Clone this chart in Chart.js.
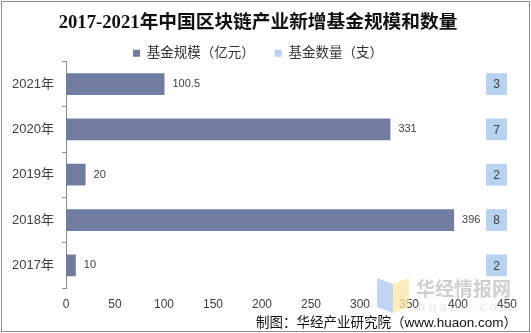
<!DOCTYPE html>
<html>
<head>
<meta charset="utf-8">
<script src="https://cdn.jsdelivr.net/npm/chart.js@4/dist/chart.umd.min.js"></script>
<style>
  html, body { margin: 0; padding: 0; background: #fff; }
  #wrap { width: 531px; height: 333px; }
</style>
</head>
<body>
<div id="wrap"><canvas id="bar"></canvas></div>
<script>
const years = ["2021年", "2020年", "2019年", "2018年", "2017年"];
const fundScale = [100.5, 331, 20, 396, 10];
const fundCount = [3, 7, 2, 8, 2];
const seriesNames = ["基金规模（亿元）", "基金数量（支）"];

const sansFont = '"Liberation Sans", "Noto Sans CJK SC", sans-serif';
const textColor = "#404040";

// white background, outer frame, hide the count bars (drawn as label boxes instead)
const framePlugin = {
  id: "frame",
  beforeDraw(chart) {
    const ctx = chart.ctx;
    ctx.save();
    ctx.fillStyle = "#fff";
    ctx.fillRect(0, 0, chart.width, chart.height);
    ctx.strokeStyle = "#8c8c8c";
    ctx.lineWidth = 1;
    ctx.strokeRect(1.5, 1.5, chart.width - 3, chart.height - 3);
    ctx.restore();
  },
  beforeDatasetDraw(chart, args) {
    if (args.index === 1) return false;
  },
};

const labelPlugin = {
  id: "labels",
  afterDatasetsDraw(chart) {
    const ctx = chart.ctx;
    const area = chart.chartArea;
    ctx.save();
    ctx.textBaseline = "middle";

    // value labels after the scale bars
    ctx.font = "11px " + sansFont;
    ctx.fillStyle = textColor;
    ctx.textAlign = "left";
    chart.getDatasetMeta(0).data.forEach((bar, i) => {
      ctx.fillText(String(fundScale[i]), bar.x + 8, bar.y);
    });

    // count series: filled label boxes at the right edge of the plot
    const boxW = 21;
    chart.getDatasetMeta(1).data.forEach((bar, i) => {
      const h = bar.height;
      ctx.fillStyle = "#b7d3f0";
      ctx.fillRect(area.right - boxW, bar.y - h / 2, boxW, h);
      ctx.fillStyle = textColor;
      ctx.font = "12px " + sansFont;
      ctx.textAlign = "center";
      ctx.fillText(String(fundCount[i]), area.right - boxW / 2, bar.y + 1);
    });
    ctx.restore();
  },
  afterDraw(chart) {
    const ctx = chart.ctx;
    ctx.save();
    // source note
    ctx.font = "13.5px " + sansFont;
    ctx.fillStyle = "#111";
    ctx.textAlign = "right";
    ctx.textBaseline = "middle";
    ctx.fillText("制图：华经产业研究院（www.huaon.com）", 517, 323);

    // faint watermark
    ctx.globalAlpha = 0.75;
    ctx.fillStyle = "#a9c8f2";
    ctx.beginPath();
    ctx.moveTo(377, 278); ctx.lineTo(393, 284); ctx.lineTo(393, 313); ctx.lineTo(377, 307);
    ctx.fill();
    ctx.fillStyle = "#fbe8a6";
    ctx.beginPath();
    ctx.moveTo(393, 284); ctx.lineTo(409, 278); ctx.lineTo(409, 307); ctx.lineTo(393, 313);
    ctx.fill();
    ctx.globalAlpha = 0.55;
    ctx.fillStyle = "#a8a8a8";
    ctx.textAlign = "left";
    ctx.textBaseline = "alphabetic";
    ctx.font = "bold 19px " + sansFont;
    ctx.fillText("华经情报网", 416, 296);
    ctx.globalAlpha = 0.3;
    ctx.font = "13px " + sansFont;
    ctx.fillText("h u a o n . c o m", 418, 311);
    ctx.restore();
  },
};

new Chart(document.querySelector("#bar"), {
  type: "bar",
  data: {
    labels: years,
    datasets: [
      {
        label: seriesNames[0],
        data: fundScale,
        backgroundColor: "#727ca1",
        grouped: false,
        categoryPercentage: 0.8,
        barPercentage: 0.6,
        xAxisID: "x",
      },
      {
        label: seriesNames[1],
        data: fundCount,
        backgroundColor: "#b7d3f0",
        grouped: false,
        categoryPercentage: 0.8,
        barPercentage: 0.6,
        xAxisID: "x2",
      },
    ],
  },
  options: {
    indexAxis: "y",
    responsive: true,
    maintainAspectRatio: false,
    animation: false,
    layout: {
      padding: { left: 9, right: 24, top: 0, bottom: 22 },
    },
    plugins: {
      title: {
        display: true,
        text: "2017-2021年中国区块链产业新增基金规模和数量",
        color: "#111",
        font: { family: '"Liberation Serif", "Noto Sans CJK SC", serif', size: 18.7, weight: "bold" },
        padding: { top: 12, bottom: -8 },
      },
      legend: {
        display: true,
        position: "top",
        maxHeight: 35,
        labels: {
          boxWidth: 7,
          boxHeight: 7,
          padding: 20,
          color: "#333",
          font: { family: sansFont, size: 13.5 },
        },
      },
      tooltip: { enabled: false },
    },
    scales: {
      x: {
        min: 0,
        max: 450,
        afterFit(scale) {
          scale.height = 23;
        },
        ticks: {
          stepSize: 50,
          color: textColor,
          padding: 9,
          maxRotation: 0,
          font: { family: sansFont, size: 12 },
        },
        grid: { display: false, drawTicks: false },
        border: { display: false },
      },
      x2: {
        display: false,
        min: 0,
        max: 10,
      },
      y: {
        afterFit(scale) {
          scale.width = 57;
        },
        ticks: {
          color: textColor,
          padding: 8,
          font: { family: sansFont, size: 13 },
        },
        grid: {
          offset: true,
          drawOnChartArea: false,
          tickLength: 4,
          color: "#898989",
        },
        border: { display: true, color: "#898989" },
      },
    },
  },
  plugins: [framePlugin, labelPlugin],
});
</script>
</body>
</html>
